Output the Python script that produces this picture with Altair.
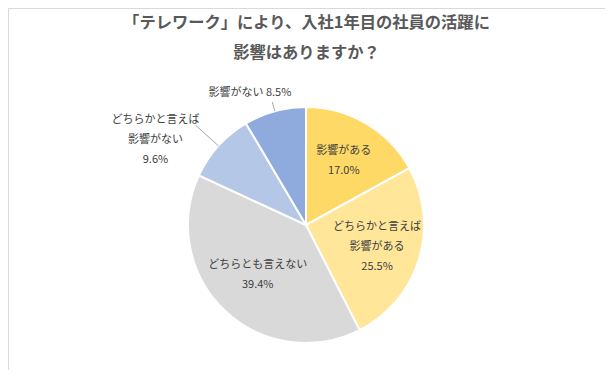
import altair as alt
import pandas as pd

# ---- data ----
categories = ["影響がある", "どちらかと言えば影響がある", "どちらとも言えない",
              "どちらかと言えば影響がない", "影響がない"]
label_names = ["影響がある", "どちらかと言えば\n影響がある", "どちらとも言えない",
               "どちらかと言えば\n影響がない", "影響がない"]
values = [17.0, 25.5, 39.4, 9.6, 8.5]
colors = ["#FFD966", "#FFE699", "#D9D9D9", "#B4C7E7", "#8FAADC"]
title_lines = ["「テレワーク」により、入社1年目の社員の活躍に", "影響はありますか？"]

# ---- layout (not data) ----
W, H = 597, 362
CX, CY, R = 298, 217, 118
LH = 20
label_sep = ["\n", "\n", "\n", "\n", " "]
outside = [0, 0, 0, 1, 1]
label_r = [0.63, 0.63, 0.59, 1.08, 1.16]
label_dx = [0, 0, 0, -56, -20]
lead_r = [0, 0, 0, 1.26, 1.08]

df = pd.DataFrame({
    "idx": list(range(len(categories))),
    "category": categories,
    "value": values,
    "label": [n + s + f"{v:.1f}%" for n, s, v in zip(label_names, label_sep, values)],
    "outside": outside,
})

FONT = "Noto Sans CJK JP"

def arr(lst):
    return "[" + ",".join(str(x) for x in lst) + "]"

base = alt.Chart(df)

pie = base.mark_arc(x=CX, y=CY, outerRadius=R, stroke="white", strokeWidth=2).encode(
    theta=alt.Theta("value:Q", stack=True),
    order=alt.Order("idx:Q", sort="ascending"),
    color=alt.Color("category:N", scale=alt.Scale(domain=categories, range=colors), legend=None),
)

geo = base.transform_window(
    cum="sum(value)", sort=[alt.SortField("idx", order="ascending")], frame=[None, 0]
).transform_joinaggregate(
    total="sum(value)"
).transform_calculate(
    mid="2*PI*(datum.cum - datum.value/2)/datum.total",
    nl="length(split(datum.label, '\\n'))",
).transform_calculate(
    lx=f"{CX} + {R}*{arr(label_r)}[datum.idx]*sin(datum.mid) + {arr(label_dx)}[datum.idx]",
    ly=f"{CY} - {R}*{arr(label_r)}[datum.idx]*cos(datum.mid) - (datum.nl - 1)*{LH}/2",
    ex=f"{CX} + {R}*sin(datum.mid)",
    ey=f"{CY} - {R}*cos(datum.mid)",
    ox=f"{CX} + {R}*{arr(lead_r)}[datum.idx]*sin(datum.mid)",
    oy=f"{CY} - {R}*{arr(lead_r)}[datum.idx]*cos(datum.mid)",
)

labels = geo.mark_text(
    font=FONT, fontSize=11, color="#404040", align="center", baseline="middle",
    lineBreak="\n", lineHeight=LH,
).encode(
    x=alt.X("lx:Q", scale=None, axis=None),
    y=alt.Y("ly:Q", scale=None, axis=None),
    text="label:N",
)

leaders = geo.transform_filter("datum.outside == 1").mark_rule(
    color="#A6A6A6", strokeWidth=1
).encode(
    x=alt.X("ex:Q", scale=None, axis=None),
    y=alt.Y("ey:Q", scale=None, axis=None),
    x2="ox:Q",
    y2="oy:Q",
)

title_df = pd.DataFrame({"t": ["\n".join(title_lines)]})
title = alt.Chart(title_df).mark_text(
    font=FONT, fontSize=16.3, fontWeight="bold", color="#595959",
    align="center", baseline="middle", lineBreak="\n", lineHeight=30,
    x=W / 2, y=15,
).encode(text="t:N")

chart = alt.layer(pie, leaders, labels, title).properties(
    width=W, height=H, padding=0, autosize=alt.AutoSizeParams(type="none"),
    background="white",
).configure_view(stroke="#D9D9D9", strokeWidth=1)

chart.save("out.html", embed_options={"renderer": "svg", "actions": False})
